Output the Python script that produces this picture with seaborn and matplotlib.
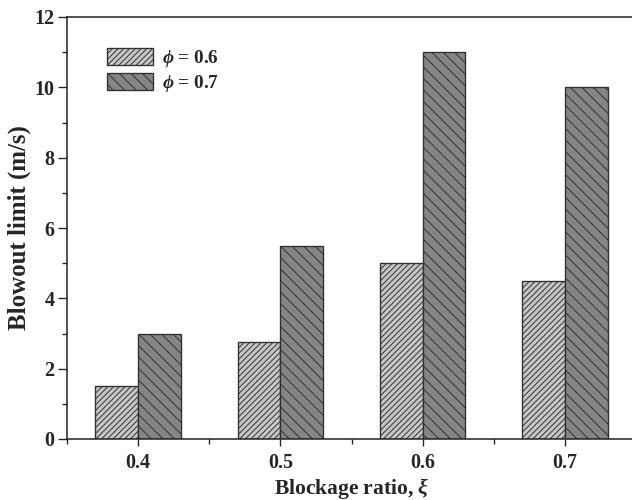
import matplotlib
matplotlib.use("Agg")
import matplotlib.pyplot as plt
from matplotlib.ticker import MultipleLocator, FixedLocator
import seaborn as sns
import pandas as pd

# Blowout limit vs blockage ratio for two equivalence ratios
ratios = ["0.4", "0.5", "0.6", "0.7"]
phi_labels = [r"$\phi$ = 0.6", r"$\phi$ = 0.7"]
limit_phi06 = [1.5, 2.75, 5.0, 4.5]
limit_phi07 = [3.0, 5.5, 11.0, 10.0]

df = pd.DataFrame({
    "ratio": ratios * 2,
    "limit": limit_phi06 + limit_phi07,
    "phi": [phi_labels[0]] * len(ratios) + [phi_labels[1]] * len(ratios),
})

sns.set_theme(style="ticks")
plt.rcParams["font.family"] = ["Liberation Serif", "DejaVu Serif"]
plt.rcParams["font.weight"] = "bold"
plt.rcParams["mathtext.fontset"] = "custom"
plt.rcParams["mathtext.rm"] = "Liberation Serif:bold"
plt.rcParams["mathtext.it"] = "Liberation Serif:italic:bold"
plt.rcParams["mathtext.bf"] = "Liberation Serif:bold"
plt.rcParams["hatch.linewidth"] = 0.5

dpi = 138
fig = plt.figure(figsize=(632 / dpi, 500 / dpi), dpi=dpi)
ax = fig.add_axes([67 / 632, 61 / 500, (636 - 67) / 632, 422 / 500])

face_colors = ["#c6c6c6", "#858585"]
hatch_colors = ["#6a6a6a", "#3a3a3a"]
hatches = ["////////", "\\\\\\\\"]

sns.barplot(data=df, x="ratio", y="limit", hue="phi", palette=face_colors,
            width=0.6, edgecolor="#303030", linewidth=0.7, saturation=1,
            legend=False, ax=ax)

for cont, h, hc in zip(ax.containers, hatches, hatch_colors):
    for bar in cont:
        bar.set_hatch(h)
        if hasattr(bar, "set_hatchcolor"):
            bar.set_hatchcolor(hc)

ax.set_xlim(-0.5, 3.5)
ax.set_ylim(0, 12)
ax.yaxis.set_major_locator(MultipleLocator(2))
ax.yaxis.set_minor_locator(MultipleLocator(1))
ax.xaxis.set_minor_locator(FixedLocator([-0.5, 0.5, 1.5, 2.5, 3.5]))

for s in ax.spines.values():
    s.set_linewidth(0.8)
    s.set_color("#222222")

ax.tick_params(axis="y", which="major", direction="out", length=4.6, width=0.7,
               labelsize=10.5, pad=2, color="#222222")
ax.tick_params(axis="y", which="minor", direction="out", length=2.6, width=0.7,
               color="#222222")
ax.tick_params(axis="x", which="major", direction="out", length=3.8, width=0.7,
               labelsize=10.5, pad=3.5, color="#222222")
ax.tick_params(axis="x", which="minor", direction="out", length=2.4, width=0.7,
               color="#222222")
for lbl in ax.get_xticklabels() + ax.get_yticklabels():
    lbl.set_fontweight("bold")

ax.set_xlabel(r"Blockage ratio, $\xi$", fontsize=11.2, fontweight="bold", labelpad=1.5)
ax.set_ylabel("Blowout limit (m/s)", fontsize=13, fontweight="bold", labelpad=1.5)

handles = [cont[0] for cont in ax.containers]
ax.legend(handles, phi_labels, loc="upper left", bbox_to_anchor=(0.04, 0.967),
          frameon=False, handlelength=2.4, handleheight=1.0,
          handletextpad=0.45, labelspacing=0.2,
          prop={"family": "Liberation Serif", "weight": "bold", "size": 10})

fig.savefig("out.png", dpi=dpi)
